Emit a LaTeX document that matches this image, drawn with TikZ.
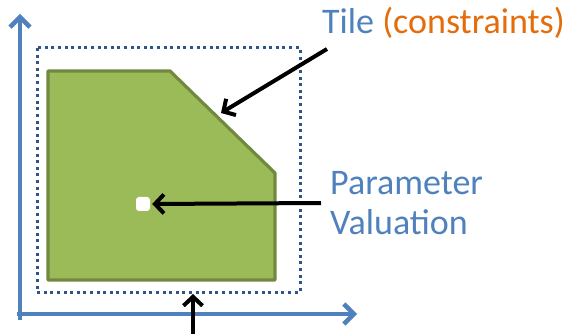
\documentclass[tikz,border=0pt]{standalone}
\usepackage{fontspec}
\setmainfont{Carlito}
\usetikzlibrary{arrows.meta}
\definecolor{axisblue}{HTML}{4F81BD}
\definecolor{tileorange}{HTML}{E46C0A}
\definecolor{tilegreen}{HTML}{9BBB59}
\definecolor{tileedge}{HTML}{71893F}
\definecolor{dotblue}{HTML}{2F5487}
\tikzset{
  axis/.style={draw=axisblue, line width=4.5pt, -{Straight Barb[length=10pt,width=20pt,line width=4.5pt]}},
  pointer/.style={draw=black, line width=4pt, -{Straight Barb[length=9pt,width=19pt,line width=4pt]}},
  label/.style={font=\fontsize{36}{42}\selectfont, text=axisblue, inner sep=0pt, anchor=base west}
}
\begin{document}
\begin{tikzpicture}[x=1pt,y=-1pt]
\useasboundingbox (0,0) rectangle (568,334);
% axes
\coordinate (yend) at (20,14);
\coordinate (xend) at (357,314);
\draw[axis] (20,320) -- (yend);
\draw[axis] (17,314) -- (xend);
% dotted tile bounds
\draw[dotblue, line width=3pt, dash pattern=on 3pt off 3.6pt] (37,48) rectangle (300,292);
% the tile
\draw[fill=tilegreen, draw=tileedge, line width=3.2pt, line join=round]
  (48,71) -- (170,71) -- (275,173) -- (275,280) -- (48,280) -- cycle;
\coordinate (edge) at (221,113);
% valuation point
\node[fill=white, rounded corners=3pt, minimum size=14pt, inner sep=0pt] (pt) at (143,204) {};
% labels
\node[label] (tile) at (322,34) {Tile \textcolor{tileorange}{(constraints)}};
\node[label] (par) at (330,195) {Parameter};
\node[label] (val) at (330,234) {Valuation};
% pointers
\coordinate (tilefrom) at (327,49);
\coordinate (parfrom) at (321,203);
\coordinate (boxbot) at (193,294);
\coordinate (below) at (193,340);
\draw[pointer] (tilefrom) -- (edge);
\draw[pointer] (parfrom) -- ([xshift=2pt]pt.east);
\draw[pointer] (below) -- (boxbot);
\end{tikzpicture}
\end{document}
